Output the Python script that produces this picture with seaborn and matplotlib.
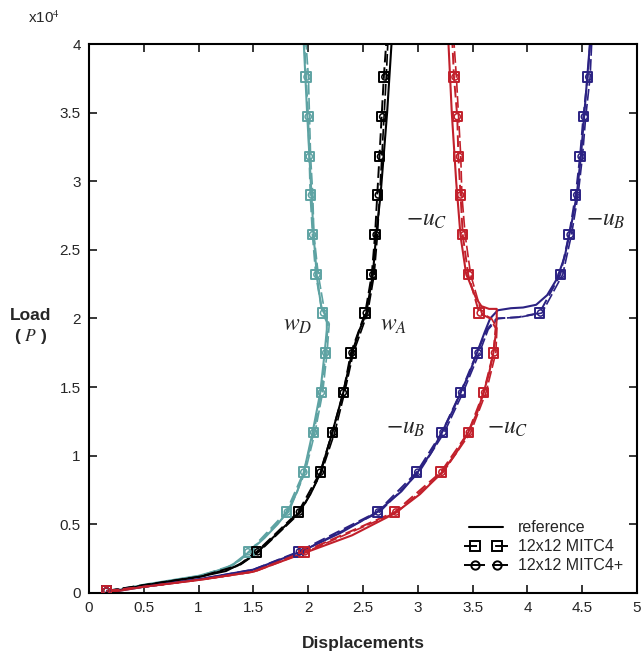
import numpy as np
import matplotlib
matplotlib.use("Agg")
import matplotlib.pyplot as plt
import seaborn as sns
from matplotlib.lines import Line2D
from matplotlib.legend_handler import HandlerLine2D

# load steps of the FE runs (markers)
P_steps = [150, 3000, 5900, 8800, 11700, 14600, 17500, 20400, 23200, 26100, 29000, 31800, 34700, 37600]

# FE displacements at the load steps
wD_mitc4 = [0.16, 1.46, 1.80, 1.96, 2.05, 2.12, 2.16, 2.13, 2.07, 2.04, 2.02, 2.01, 2.00, 1.98]
wD_mitc4p = [0.16, 1.45, 1.81, 1.96, 2.05, 2.12, 2.16, 2.14, 2.08, 2.04, 2.03, 2.01, 2.00, 1.99]
wA_mitc4 = [0.16, 1.53, 1.91, 2.11, 2.22, 2.32, 2.39, 2.52, 2.58, 2.61, 2.63, 2.65, 2.67, 2.69]
wA_mitc4p = [0.16, 1.54, 1.92, 2.11, 2.23, 2.32, 2.40, 2.53, 2.59, 2.62, 2.64, 2.66, 2.68, 2.70]
uB_mitc4 = [0.16, 1.91, 2.63, 2.99, 3.22, 3.39, 3.54, 4.11, 4.30, 4.38, 4.44, 4.48, 4.51, 4.55]
uB_mitc4p = [0.16, 1.92, 2.64, 3.00, 3.23, 3.40, 3.55, 4.12, 4.31, 4.39, 4.45, 4.49, 4.52, 4.56]
uC_mitc4 = [0.16, 1.96, 2.79, 3.21, 3.46, 3.60, 3.69, 3.56, 3.46, 3.41, 3.39, 3.37, 3.36, 3.33]
uC_mitc4p = [0.16, 1.97, 2.80, 3.22, 3.47, 3.61, 3.70, 3.57, 3.47, 3.42, 3.39, 3.38, 3.36, 3.34]

# unmarked FE points: early steps, the snap (17500 -> 20400) and past the top
low_x = {"wD": [0.52, 1.02, 1.30], "wA": [0.52, 1.02, 1.36],
         "uB": [0.55, 1.05, 1.50], "uC": [0.55, 1.05, 1.50]}
low_P = {"wD": [600, 1250, 2000], "wA": [600, 1200, 2000],
         "uB": [500, 1050, 1700], "uC": [500, 1000, 1550]}
snap_x = {"wD": [2.18], "wA": [], "uB": [3.63, 3.72, 3.92], "uC": [3.71, 3.66]}
snap_P = {"wD": [19600], "wA": [], "uB": [19200, 20000, 20100], "uC": [19300, 20000]}
tail_x = {"wD": 1.96, "wA": 2.72, "uB": 4.58, "uC": 3.31}
tail_P = 41000

# reference solution
ref_wD_x = [0.15, 0.5, 1.0, 1.25, 1.38, 1.46, 1.6, 1.72, 1.81, 1.9, 1.96, 2.04, 2.11, 2.15, 2.17, 2.17,
            2.12, 2.08, 2.05, 2.03, 2.01, 1.99, 1.96]
ref_wD_P = [0, 600, 1250, 1800, 2400, 3000, 4000, 5000, 5900, 7400, 8800, 11700, 14600, 17500, 19200, 20000,
            20800, 23000, 26000, 29000, 32000, 35000, 40000]
ref_wA_x = [0.15, 0.5, 1.0, 1.25, 1.4, 1.54, 1.7, 1.83, 1.92, 2.02, 2.11, 2.22, 2.32, 2.40, 2.47, 2.53,
            2.59, 2.62, 2.66, 2.69, 2.72, 2.76]
ref_wA_P = [0, 550, 1170, 1600, 2200, 3000, 4200, 5200, 5900, 7200, 8700, 11700, 14600, 17500, 19200, 20400,
            23200, 26100, 29000, 32000, 35000, 40000]
ref_uB_x = [0.15, 0.5, 1.0, 1.5, 1.93, 2.3, 2.63, 2.85, 2.99, 3.12, 3.22, 3.32, 3.39, 3.47, 3.54, 3.61,
            3.66, 3.73, 3.85, 3.96, 4.08, 4.18, 4.27, 4.34, 4.40, 4.45, 4.49, 4.53, 4.57]
ref_uB_P = [0, 450, 1000, 1700, 3000, 4400, 5900, 7400, 8700, 10200, 11700, 13300, 14600, 16000, 17500,
            19000, 20000, 20600, 20750, 20800, 21000, 21700, 22900, 24500, 26800, 29000, 32000, 36000, 40000]
ref_uC_x = [0.15, 0.5, 1.0, 1.5, 1.96, 2.4, 2.79, 3.02, 3.21, 3.35, 3.46, 3.54, 3.60, 3.65, 3.69, 3.71,
            3.72, 3.72, 3.65, 3.58, 3.53, 3.48, 3.44, 3.39, 3.35, 3.31, 3.28]
ref_uC_P = [0, 450, 950, 1550, 2900, 4200, 5800, 7200, 8700, 10200, 11700, 13100, 14600, 16000, 17500,
            18800, 20000, 20700, 20700, 20900, 21500, 22500, 23300, 26000, 30000, 35000, 40000]

curves = ["wD", "wA", "uB", "uC"]
colors = {"wD": "#5ea3a3", "wA": "black", "uB": "#2b2283", "uC": "#c2202b"}
ref = {"wD": (ref_wD_x, ref_wD_P), "wA": (ref_wA_x, ref_wA_P),
       "uB": (ref_uB_x, ref_uB_P), "uC": (ref_uC_x, ref_uC_P)}
fe4 = {"wD": wD_mitc4, "wA": wA_mitc4, "uB": uB_mitc4, "uC": uC_mitc4}
fe4p = {"wD": wD_mitc4p, "wA": wA_mitc4p, "uB": uB_mitc4p, "uC": uC_mitc4p}


def fe_path(key, disp):
    '''dashed FE path: load steps plus the unmarked points'''
    x = [disp[0]] + low_x[key] + list(disp[1:7]) + snap_x[key] + list(disp[7:]) + [tail_x[key]]
    p = [P_steps[0]] + low_P[key] + list(P_steps[1:7]) + snap_P[key] + list(P_steps[7:]) + [tail_P]
    return np.array(x), np.array(p) / 1e4


sns.set_theme(style="ticks")
plt.rcParams['font.family'] = ['Liberation Sans', 'DejaVu Sans']
plt.rcParams['mathtext.fontset'] = 'stix'

fig, ax = plt.subplots(figsize=(6.41, 6.55), dpi=100)
fig.subplots_adjust(left=0.1388, right=0.9938, bottom=0.0947, top=0.9328)

dash4 = (0, (6, 2.5))
dash4p = (0, (7, 2))
P_plot = np.array(P_steps) / 1e4

for k in curves:
    c = colors[k]
    rx, rp = ref[k]
    sns.lineplot(x=rx, y=np.array(rp) / 1e4, sort=False, estimator=None, color=c, lw=1.5, ax=ax)
    x4, p4 = fe_path(k, fe4[k])
    sns.lineplot(x=x4, y=p4, sort=False, estimator=None, color=c, lw=1.4, linestyle=dash4, ax=ax)
    x4p, p4p = fe_path(k, fe4p[k])
    sns.lineplot(x=x4p + 0.012, y=p4p, sort=False, estimator=None, color=c, lw=1.2, linestyle=dash4p, ax=ax)
    sns.scatterplot(x=fe4[k], y=P_plot, marker='s', s=46, facecolors='none', edgecolors=c,
                    linewidths=1.4, ax=ax, zorder=5)
    sns.scatterplot(x=fe4p[k], y=P_plot, marker='o', s=20, facecolors='none', edgecolors=c,
                    linewidths=1.1, ax=ax, zorder=6)

ax.set_xlim(0, 5)
ax.set_ylim(0, 4)
ax.set_xticks(np.arange(0, 5.01, 0.5))
ax.set_yticks(np.arange(0, 4.01, 0.5))
ax.set_xticklabels([f"{v:g}" for v in np.arange(0, 5.01, 0.5)])
ax.set_yticklabels([f"{v:g}" for v in np.arange(0, 4.01, 0.5)])
ax.tick_params(direction='in', length=6, width=1.3, top=True, right=True, labelsize=11, pad=6)
for s in ax.spines.values():
    s.set_visible(True)
    s.set_linewidth(1.5)
    s.set_color('black')

ax.set_xlabel("Displacements", fontsize=12.5, fontweight='bold', labelpad=15)
ax.set_ylabel("")
fig.text(31 / 641, 1 - 316 / 655, "Load", fontsize=12.5, fontweight='bold', ha='center', va='center')
fig.text(31 / 641, 1 - 336 / 655, "( $P$ )", fontsize=12.5, fontweight='bold', ha='center', va='center')
fig.text(28 / 641, 1 - 18 / 655, "x10$^4$", fontsize=11, ha='left', va='center')

lab = dict(fontsize=17, ha='center', va='center')
ax.text(1.90, 1.95, "$w_D$", **lab)
ax.text(2.78, 1.95, "$w_A$", **lab)
ax.text(3.08, 2.72, "$-u_C$", **lab)
ax.text(4.72, 2.72, "$-u_B$", **lab)
ax.text(2.89, 1.20, "$-u_B$", **lab)
ax.text(3.82, 1.20, "$-u_C$", **lab)

# legend handles: dashed line over the full width + two markers set in from the ends
h_ref = Line2D([], [], color='black', lw=1.5)
l_4 = Line2D([], [], color='black', lw=1.4, linestyle=(0, (6.7, 9.3)))
m_4 = Line2D([], [], color='black', ls='none', marker='s', ms=6.5, mfc='none', mew=1.4)
l_4p = Line2D([], [], color='black', lw=1.4, linestyle=(0, (10.8, 3.6)))
m_4p = Line2D([], [], color='black', ls='none', marker='o', ms=6.0, mfc='none', mew=1.4)
hmap = {l_4: HandlerLine2D(marker_pad=0), l_4p: HandlerLine2D(marker_pad=0),
        m_4: HandlerLine2D(marker_pad=0.7), m_4p: HandlerLine2D(marker_pad=0.7)}
ax.legend([h_ref, (l_4, m_4), (l_4p, m_4p)], ["reference", "12x12 MITC4", "12x12 MITC4+"],
          loc='lower right', frameon=False, fontsize=11.5, numpoints=2, handlelength=2.75,
          handletextpad=0.6, labelspacing=0.25, bbox_to_anchor=(1.0, 0.01), handler_map=hmap)

fig.savefig("out.png", dpi=100)
